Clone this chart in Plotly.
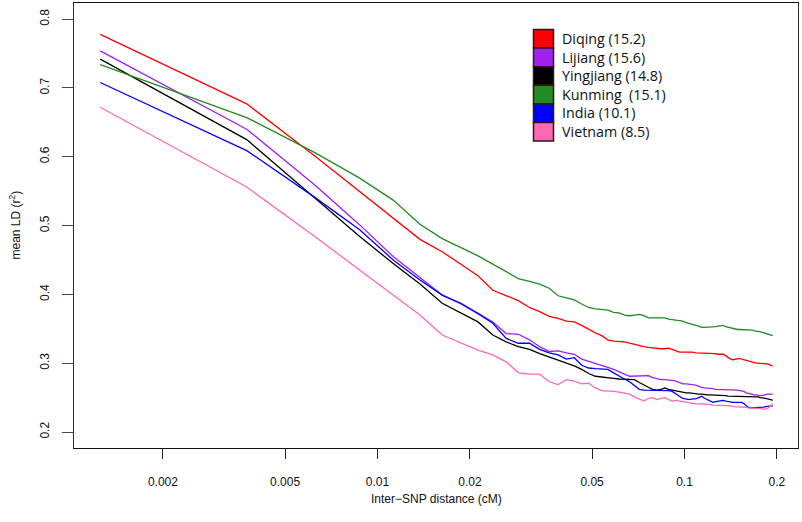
import plotly.graph_objects as go

# Inter-SNP distance bins (cM), bin midpoints
distance_cm = [
    0.00125, 0.00375, 0.00625, 0.00875, 0.01125, 0.01375, 0.01625, 0.01875, 0.02125, 0.02375,
    0.02625, 0.02875, 0.03125, 0.03375, 0.03625, 0.03875, 0.04125, 0.04375, 0.04625, 0.04875,
    0.05125, 0.05375, 0.05625, 0.05875, 0.06125, 0.06375, 0.06625, 0.06875, 0.07125, 0.07375,
    0.07625, 0.07875, 0.08125, 0.08375, 0.08625, 0.08875, 0.09125, 0.09375, 0.09625, 0.09875,
    0.10125, 0.10375, 0.10625, 0.10875, 0.11125, 0.11375, 0.11625, 0.11875, 0.12125, 0.12375,
    0.12625, 0.12875, 0.13125, 0.13375, 0.13625, 0.13875, 0.14125, 0.14375, 0.14625, 0.14875,
    0.15125, 0.15375, 0.15625, 0.15875, 0.16125, 0.16375, 0.16625, 0.16875, 0.17125, 0.17375,
    0.17625, 0.17875, 0.18125, 0.18375, 0.18625, 0.18875, 0.19125, 0.19375,
]

diqing = [
    0.778, 0.677, 0.601, 0.549, 0.511, 0.480, 0.462, 0.443, 0.427, 0.406,
    0.398, 0.391, 0.381, 0.375, 0.368, 0.365, 0.361, 0.360, 0.355, 0.349,
    0.344, 0.340, 0.334, 0.332, 0.332, 0.331, 0.329, 0.327, 0.325, 0.324,
    0.323, 0.322, 0.321, 0.321, 0.321, 0.322, 0.320, 0.318, 0.316, 0.316,
    0.316, 0.317, 0.316, 0.315, 0.315, 0.314, 0.314, 0.314, 0.314, 0.314,
    0.314, 0.313, 0.313, 0.313, 0.311, 0.308, 0.306, 0.305, 0.306, 0.307,
    0.307, 0.306, 0.305, 0.304, 0.303, 0.302, 0.301, 0.300, 0.300, 0.300,
    0.300, 0.300, 0.300, 0.300, 0.299, 0.298, 0.297, 0.296,
]

lijiang = [
    0.754, 0.640, 0.559, 0.501, 0.455, 0.424, 0.399, 0.387, 0.373, 0.360,
    0.343, 0.342, 0.334, 0.324, 0.317, 0.318, 0.315, 0.313, 0.306, 0.303,
    0.300, 0.297, 0.294, 0.291, 0.288, 0.284, 0.281, 0.281, 0.281, 0.282,
    0.282, 0.279, 0.277, 0.276, 0.276, 0.276, 0.275, 0.274, 0.272, 0.270,
    0.270, 0.270, 0.269, 0.268, 0.266, 0.265, 0.264, 0.264, 0.263, 0.263,
    0.262, 0.262, 0.262, 0.262, 0.261, 0.261, 0.261, 0.261, 0.261, 0.261,
    0.260, 0.260, 0.259, 0.257, 0.256, 0.255, 0.255, 0.254, 0.254, 0.253,
    0.253, 0.253, 0.254, 0.255, 0.255, 0.255, 0.255, 0.255,
]

yingjiang = [
    0.742, 0.625, 0.540, 0.484, 0.445, 0.415, 0.387, 0.373, 0.360, 0.341,
    0.331, 0.324, 0.320, 0.314, 0.309, 0.305, 0.301, 0.296, 0.291, 0.285,
    0.281, 0.280, 0.280, 0.278, 0.277, 0.277, 0.277, 0.276, 0.272, 0.268,
    0.265, 0.262, 0.261, 0.262, 0.264, 0.262, 0.261, 0.259, 0.258, 0.258,
    0.257, 0.257, 0.256, 0.256, 0.255, 0.255, 0.254, 0.254, 0.254, 0.254,
    0.253, 0.253, 0.253, 0.253, 0.253, 0.252, 0.252, 0.252, 0.252, 0.252,
    0.251, 0.251, 0.251, 0.251, 0.251, 0.251, 0.251, 0.251, 0.251, 0.251,
    0.250, 0.250, 0.249, 0.249, 0.248, 0.248, 0.247, 0.246,
]

kunming = [
    0.734, 0.657, 0.606, 0.569, 0.537, 0.502, 0.481, 0.468, 0.456, 0.444,
    0.433, 0.423, 0.419, 0.415, 0.409, 0.398, 0.395, 0.392, 0.386, 0.381,
    0.379, 0.378, 0.377, 0.374, 0.373, 0.370, 0.369, 0.370, 0.371, 0.369,
    0.366, 0.366, 0.366, 0.367, 0.366, 0.364, 0.363, 0.363, 0.362, 0.361,
    0.359, 0.358, 0.357, 0.355, 0.354, 0.352, 0.352, 0.352, 0.352, 0.352,
    0.353, 0.354, 0.354, 0.355, 0.353, 0.352, 0.351, 0.350, 0.350, 0.349,
    0.349, 0.349, 0.349, 0.348, 0.348, 0.348, 0.348, 0.347, 0.347, 0.347,
    0.346, 0.345, 0.344, 0.343, 0.342, 0.341, 0.341, 0.340,
]

india = [
    0.708, 0.609, 0.541, 0.494, 0.450, 0.421, 0.399, 0.386, 0.372, 0.358,
    0.336, 0.329, 0.329, 0.320, 0.315, 0.312, 0.306, 0.308, 0.297, 0.293,
    0.292, 0.292, 0.291, 0.286, 0.281, 0.277, 0.273, 0.268, 0.262, 0.261,
    0.261, 0.261, 0.260, 0.260, 0.260, 0.260, 0.259, 0.255, 0.252, 0.249,
    0.248, 0.247, 0.248, 0.248, 0.250, 0.252, 0.249, 0.247, 0.245, 0.243,
    0.244, 0.245, 0.246, 0.246, 0.245, 0.244, 0.243, 0.243, 0.243, 0.243,
    0.243, 0.243, 0.241, 0.238, 0.236, 0.235, 0.235, 0.235, 0.235, 0.235,
    0.235, 0.236, 0.236, 0.237, 0.237, 0.237, 0.238, 0.238,
]

vietnam = [
    0.672, 0.556, 0.484, 0.435, 0.399, 0.370, 0.341, 0.329, 0.319, 0.312,
    0.302, 0.286, 0.284, 0.284, 0.273, 0.269, 0.276, 0.274, 0.270, 0.271,
    0.264, 0.260, 0.260, 0.259, 0.258, 0.257, 0.255, 0.251, 0.248, 0.245,
    0.249, 0.250, 0.247, 0.248, 0.250, 0.247, 0.245, 0.246, 0.245, 0.244,
    0.243, 0.242, 0.242, 0.241, 0.241, 0.241, 0.241, 0.240, 0.240, 0.239,
    0.239, 0.239, 0.239, 0.238, 0.238, 0.238, 0.238, 0.237, 0.237, 0.237,
    0.237, 0.237, 0.236, 0.236, 0.235, 0.235, 0.234, 0.234, 0.234, 0.234,
    0.234, 0.234, 0.233, 0.233, 0.234, 0.236, 0.238, 0.241,
]

series_names = ["Diqing (15.2)", "Lijiang (15.6)", "Yingjiang (14.8)",
                "Kunming  (15.1)", "India (10.1)", "Vietnam (8.5)"]
series_values = [diqing, lijiang, yingjiang, kunming, india, vietnam]
series_colors = ["#FF0000", "#A020F0", "#000000", "#228B22", "#0000FF", "#FF69B4"]

x_tick_vals = [0.002, 0.005, 0.01, 0.02, 0.05, 0.1, 0.2]
x_tick_text = ["0.002", "0.005", "0.01", "0.02", "0.05", "0.1", "0.2"]
y_tick_vals = [0.2, 0.3, 0.4, 0.5, 0.6, 0.7, 0.8]
y_tick_text = ["0.2", "0.3", "0.4", "0.5", "0.6", "0.7", "0.8"]

W, H = 802, 522
ML, MR, MT, MB = 74, 4, 3, 74
PW, PH = W - ML - MR, H - MT - MB

fig = go.Figure()
for name, vals, col in zip(series_names, series_values, series_colors):
    fig.add_trace(go.Scatter(x=distance_cm, y=vals, mode="lines", name=name,
                             line=dict(color=col, width=1.3), showlegend=False))

AX_FONT = dict(family="Liberation Sans, Arial, sans-serif", size=12, color="#111")

fig.update_layout(
    width=W, height=H,
    margin=dict(l=ML, r=MR, t=MT, b=MB, pad=0, autoexpand=False),
    paper_bgcolor="white", plot_bgcolor="white",
    font=AX_FONT,
    xaxis=dict(type="log", range=[-2.9886, -0.6303],
               tickmode="array", tickvals=x_tick_vals, ticktext=x_tick_text,
               ticks="outside", ticklen=10, tickwidth=1, tickcolor="#222",
               showline=True, linecolor="#111", linewidth=1, mirror=True,
               showgrid=False, zeroline=False, ticklabelstandoff=13,
               tickfont=AX_FONT),
    yaxis=dict(range=[0.17674, 0.8235],
               tickmode="array", tickvals=y_tick_vals, ticktext=y_tick_text,
               ticks="outside", ticklen=11, tickwidth=1, tickcolor="#444",
               showline=True, linecolor="#333", linewidth=1, mirror=True,
               showgrid=False, zeroline=False, tickangle=-90,
               ticklabelstandoff=8, tickfont=AX_FONT),
)

def px_x(p):
    return (p - ML) / PW

def px_y(p):
    return (H - MB - p) / PH

annotations = [
    dict(text="Inter\u2212SNP distance (cM)", x=0.5, y=px_y(499), xref="paper", yref="paper",
         xanchor="center", yanchor="middle", showarrow=False, font=AX_FONT),
    dict(text="mean LD (r<sup>2</sup>)", x=px_x(14), y=0.5, xref="paper", yref="paper",
         xanchor="center", yanchor="middle", textangle=-90, showarrow=False, font=AX_FONT),
]

shapes = []
LEG_TOP, LEG_ROW = 29.5, 18.6
LEG_FONT = dict(family="Open Sans, Noto Sans, sans-serif", size=14.3, color="#111")
for i, col in enumerate(series_colors):
    y0 = LEG_TOP + i * LEG_ROW
    y1 = y0 + LEG_ROW
    shapes.append(dict(type="rect", xref="paper", yref="paper",
                       x0=px_x(533.5), x1=px_x(553.5), y0=px_y(y1), y1=px_y(y0),
                       fillcolor=col, line=dict(color="#2a1a1a", width=1.5)))
legend_text = "<br>".join(n.replace("  ", "&nbsp; ") for n in series_names)
annotations.append(dict(text=legend_text, x=px_x(560),
                        y=px_y(LEG_TOP + 3 * LEG_ROW),
                        xref="paper", yref="paper", xanchor="left", yanchor="middle",
                        align="left", showarrow=False, font=LEG_FONT))

fig.update_layout(annotations=annotations, shapes=shapes)
fig.write_html("out.html", config={"displayModeBar": False},
               post_script="document.body.style.margin='0px';document.body.style.overflow='hidden';")
